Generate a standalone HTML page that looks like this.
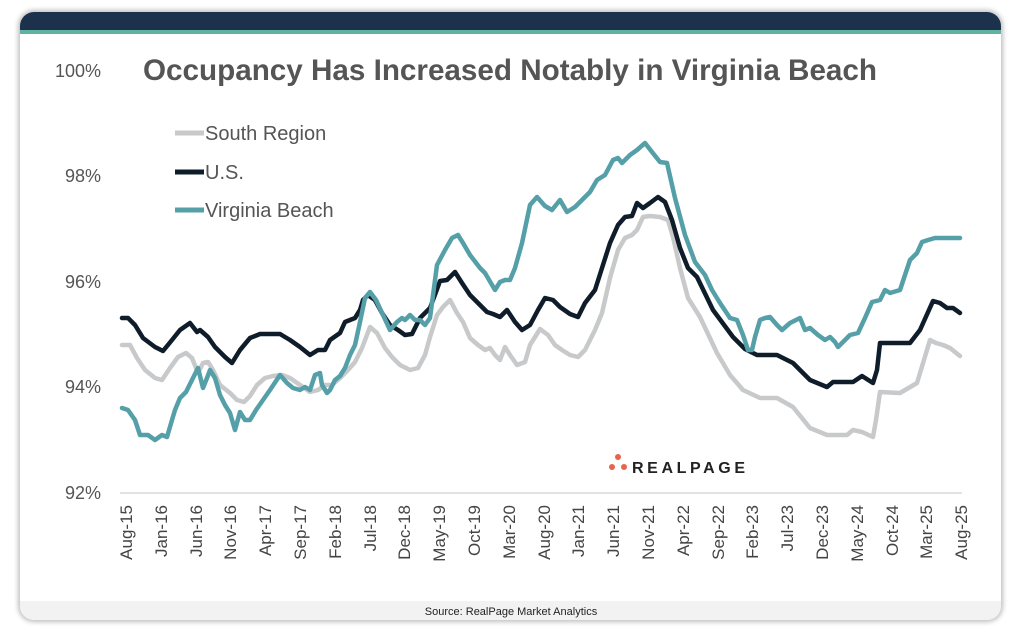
<!DOCTYPE html>
<html><head><meta charset="utf-8"><style>
html,body{margin:0;padding:0;background:#fff;}
body{width:1020px;height:633px;overflow:hidden;position:relative;font-family:"Liberation Sans",sans-serif;}
.card{position:absolute;left:20px;top:12px;width:981px;height:608px;border-radius:14px;background:#fff;box-shadow:0 0 5px 2px rgba(0,0,0,0.25);overflow:hidden;}
</style></head><body>
<div class="card"></div>
<svg width="1020" height="633" style="position:absolute;left:0;top:0" font-family="Liberation Sans, sans-serif">
<defs><clipPath id="c"><rect x="20" y="12" width="981" height="608" rx="14"/></clipPath></defs>
<g clip-path="url(#c)">
<rect x="20" y="12" width="981" height="18" fill="#1c314b"/>
<rect x="20" y="30" width="981" height="4" fill="#5fb3a1"/>
<rect x="20" y="601" width="981" height="20" fill="#f2f2f2"/>
</g>
<text x="511" y="615" font-size="11" fill="#222" text-anchor="middle">Source: RealPage Market Analytics</text>
<text x="143" y="80" font-size="30" font-weight="bold" fill="#555" textLength="734" lengthAdjust="spacingAndGlyphs">Occupancy Has Increased Notably in Virginia Beach</text>
<g font-size="18" fill="#555" text-anchor="end">
<text x="101" y="77">100%</text><text x="101" y="182">98%</text><text x="101" y="288">96%</text><text x="101" y="393">94%</text><text x="101" y="499">92%</text>
</g>
<line x1="120" y1="493" x2="962" y2="493" stroke="#d9d9d9" stroke-width="1.5"/>
<g font-size="17" fill="#444" text-anchor="end">
<text transform="translate(132,505) rotate(-90)">Aug-15</text>
<text transform="translate(167,505) rotate(-90)">Jan-16</text>
<text transform="translate(202,505) rotate(-90)">Jun-16</text>
<text transform="translate(236,505) rotate(-90)">Nov-16</text>
<text transform="translate(271,505) rotate(-90)">Apr-17</text>
<text transform="translate(306,505) rotate(-90)">Sep-17</text>
<text transform="translate(341,505) rotate(-90)">Feb-18</text>
<text transform="translate(376,505) rotate(-90)">Jul-18</text>
<text transform="translate(410,505) rotate(-90)">Dec-18</text>
<text transform="translate(445,505) rotate(-90)">May-19</text>
<text transform="translate(480,505) rotate(-90)">Oct-19</text>
<text transform="translate(515,505) rotate(-90)">Mar-20</text>
<text transform="translate(550,505) rotate(-90)">Aug-20</text>
<text transform="translate(584,505) rotate(-90)">Jan-21</text>
<text transform="translate(619,505) rotate(-90)">Jun-21</text>
<text transform="translate(654,505) rotate(-90)">Nov-21</text>
<text transform="translate(689,505) rotate(-90)">Apr-22</text>
<text transform="translate(724,505) rotate(-90)">Sep-22</text>
<text transform="translate(758,505) rotate(-90)">Feb-23</text>
<text transform="translate(793,505) rotate(-90)">Jul-23</text>
<text transform="translate(828,505) rotate(-90)">Dec-23</text>
<text transform="translate(863,505) rotate(-90)">May-24</text>
<text transform="translate(898,505) rotate(-90)">Oct-24</text>
<text transform="translate(932,505) rotate(-90)">Mar-25</text>
<text transform="translate(967,505) rotate(-90)">Aug-25</text>
</g>
<g fill="none" stroke-width="4.5" stroke-linejoin="round" stroke-linecap="round">
<polyline stroke="#c8c9cb" points="122,345 130,345 137,358 145,370 155,378 162,380 170,368 178,357 186,353 192,358 198,373 203,363 208,362 213,370 220,385 230,393 237,400 244,402 250,396 257,385 265,378 273,376 282,375 290,378 300,385 310,392 318,390 325,385 332,385 340,378 348,370 355,362 362,348 370,327 377,333 385,348 392,357 400,365 410,370 418,368 425,355 430,337 437,315 443,307 450,300 457,313 463,322 470,338 478,345 485,350 490,348 495,355 500,360 505,347 510,355 517,365 525,362 530,345 540,329 548,335 555,345 562,350 570,355 578,357 585,350 595,330 602,313 610,278 618,250 625,238 632,235 637,230 643,217 650,216 660,217 668,220 673,237 680,268 688,298 700,317 717,353 730,375 743,390 760,398 777,398 793,407 810,428 827,435 847,435 853,430 862,432 873,437 876,420 880,392 900,393 917,383 930,340 936,343 943,345 950,348 960,356"/>
<polyline stroke="#0f1c2a" points="122,318 128,318 135,325 143,338 155,347 163,351 172,340 180,330 190,323 197,332 200,330 208,337 215,347 225,357 232,363 240,350 250,338 260,334 270,334 280,334 290,340 300,347 310,355 318,350 325,350 330,340 340,333 345,322 350,320 355,318 360,310 363,300 368,295 375,300 382,313 390,325 398,330 405,335 412,334 420,318 430,308 436,292 440,281 447,280 455,272 462,283 470,295 480,305 487,312 493,314 500,317 507,310 515,322 522,330 530,325 538,310 545,298 553,300 560,307 570,314 578,317 585,303 595,290 602,268 610,243 618,225 625,217 632,216 637,203 643,208 650,203 658,197 665,202 672,220 680,248 688,268 697,277 713,310 733,337 745,349 757,355 777,355 793,363 810,380 827,387 833,382 853,382 862,376 873,383 877,370 880,343 910,343 920,330 933,301 940,303 947,308 953,308 960,313"/>
<polyline stroke="#55a0a8" points="122,408 128,410 135,420 140,435 148,435 155,440 162,435 167,437 172,420 175,410 180,398 186,392 193,378 198,368 203,388 207,378 210,370 215,378 220,395 225,405 230,413 235,430 240,412 245,420 250,420 256,410 263,400 270,390 280,375 287,383 293,388 300,390 305,387 310,390 315,375 320,373 322,385 327,393 330,390 335,380 340,376 345,368 350,355 355,345 360,322 365,298 370,292 376,300 383,315 390,330 397,322 402,318 405,320 410,315 415,320 420,320 425,325 430,318 437,265 445,250 452,238 458,235 463,243 470,255 480,268 485,273 495,290 500,282 505,280 510,280 515,268 522,243 530,205 537,197 545,206 552,210 560,200 567,212 575,207 590,192 597,180 605,175 613,160 618,158 622,163 630,155 637,150 645,143 652,152 660,162 667,163 675,198 685,235 695,262 705,275 712,290 720,303 730,318 737,320 743,335 748,350 752,350 755,337 760,320 765,318 770,317 777,325 782,330 790,323 800,318 805,330 810,328 818,335 825,340 830,337 835,342 838,347 845,340 850,335 858,333 865,318 872,302 880,300 885,290 890,293 900,290 905,275 910,260 917,253 922,242 928,240 935,238 960,238"/>
</g>
<g stroke-width="5">
<line x1="175" y1="133" x2="204" y2="133" stroke="#c8c9cb"/>
<line x1="175" y1="172" x2="204" y2="172" stroke="#0f1c2a"/>
<line x1="175" y1="210" x2="204" y2="210" stroke="#55a0a8"/>
</g>
<g font-size="20" fill="#555">
<text x="205" y="140">South Region</text>
<text x="205" y="179">U.S.</text>
<text x="205" y="217">Virginia Beach</text>
</g>
<g fill="#e8644a">
<circle cx="618" cy="457" r="3"/><circle cx="612" cy="467" r="3"/><circle cx="624" cy="467" r="3"/>
</g>
<text x="632" y="473" font-size="16" font-weight="bold" fill="#222" letter-spacing="3" textLength="116" lengthAdjust="spacing">REALPAGE</text>
</svg>
</body></html>
